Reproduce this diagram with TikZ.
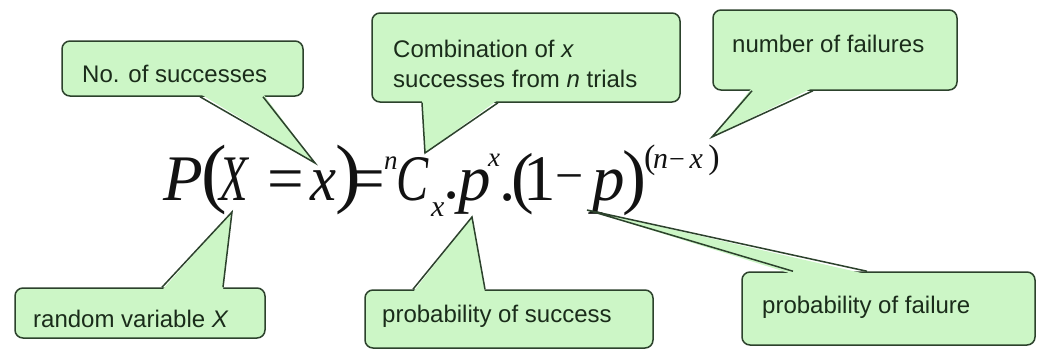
\documentclass[tikz,border=0pt]{standalone}
\usepackage{fontspec}
\setmainfont{Liberation Sans}
\newfontfamily\fml{Liberation Serif}
\usetikzlibrary{calc}
\definecolor{cfill}{RGB}{204,246,198}
\definecolor{cline}{RGB}{44,66,44}
\definecolor{ctext}{RGB}{26,44,26}
\definecolor{cform}{RGB}{18,18,18}
\newcommand\calltail[5]{%
  \fill[cfill] ($(#2,0 |- #1)+(0,#5)$) -- (#4) -- ($(#3,0 |- #1)+(0,#5)$) -- cycle;
  \draw[tailline] (#2,0 |- #1) -- (#4) -- (#3,0 |- #1);}
% glyph: kern, raise, size, content
\newcommand\fg[4]{\kern#1pt\raisebox{#2pt}{\fontsize{#3}{#3}\selectfont#4}}
\begin{document}
\begin{tikzpicture}[x=1pt,y=-1pt,
  callbox/.style={draw=cline, fill=cfill, line width=1.5pt, rounded corners=8pt, inner sep=0pt},
  calltxt/.style={anchor=base west, inner sep=0pt, text=ctext, font=\fontsize{24}{28}\selectfont},
  tailline/.style={draw=cline, line width=1.5pt, line join=miter},
  fm/.style={anchor=base west, inner sep=0pt, text=cform, font=\fml},
]
\useasboundingbox[fill=white] (0,0) rectangle (1037,351);

% ---- formula ----
\node[fm] (formula) at (163,200) {%
\fg{0}{0}{65}{\itshape P}%
\fg{-1.7}{2}{77}{(}%
\fg{-7.6}{0}{65}{\itshape\scalebox{0.72}[1]{X}}%
\fg{19.4}{0}{65}{=}%
\fg{6.3}{0}{65}{\itshape\scalebox{0.9}[1]{x}}%
\fg{-1}{2}{77}{)}%
\fg{-11.8}{0}{65}{=}%
\fg{-1.5}{31}{27}{\itshape n}%
\fg{-1.5}{0}{65}{\itshape\scalebox{0.74}[1]{C}}%
\fg{2.9}{-16}{30}{\itshape x}%
\fg{-1.3}{2}{65}{.}%
\fg{-1.25}{0}{65}{\itshape p}%
\fg{-2.5}{34}{27}{\itshape x}%
\fg{-1}{0}{65}{.}%
\fg{-4.25}{0}{68}{(}%
\fg{-9.8}{0}{65}{1}%
\fg{-1.3}{7.5}{50}{−}%
\fg{8.8}{0}{65}{\itshape p}%
\fg{-2.5}{0}{72}{)}%
\fg{-2}{32}{34}{(}%
\fg{-2.3}{32}{30}{\itshape n}%
\fg{1}{32}{28}{−}%
\fg{4.7}{32}{30}{\itshape x}%
\fg{5.5}{32}{34}{)}%
};

% ---- tail tips ----
\coordinate (tip1) at (315,163);
\coordinate (tip2) at (425,153);
\coordinate (tip3) at (712,137);
\coordinate (tip4) at (232,212);
\coordinate (tip5) at (472,217);
\coordinate (tip6) at (587,210);

% ---- callouts ----
\node[callbox, minimum width=241pt, minimum height=55pt] (b1) at (182.5,68.5) {};
\calltail{b1.south}{200}{263}{tip1}{-3}
\node[calltxt] (t1) at (82,82) {No. of successes};

\node[callbox, minimum width=308pt, minimum height=89pt] (b2) at (526,57.5) {};
\calltail{b2.south}{422}{498}{tip2}{-3}
\node[calltxt] (t2a) at (393,57) {Combination of \textit{x}};
\node[calltxt] (t2b) at (393,87) {successes from \textit{n} trials};

\node[callbox, minimum width=244pt, minimum height=80pt] (b3) at (835,50) {};
\calltail{b3.south}{752}{813}{tip3}{-3}
\node[calltxt] (t3) at (732,52) {number of failures};

\node[callbox, minimum width=250pt, minimum height=50pt] (b4) at (140,313) {};
\calltail{b4.north}{162}{223}{tip4}{3}
\node[calltxt] (t4) at (33,327) {random variable \textit{X}};

\node[callbox, minimum width=288pt, minimum height=58pt] (b5) at (509,319) {};
\calltail{b5.north}{413}{485}{tip5}{3}
\node[calltxt] (t5) at (382,322) {probability of success};

\node[callbox, minimum width=293pt, minimum height=73pt] (b6) at (888.5,308.5) {};
\calltail{b6.north}{793}{867}{tip6}{3}
\node[calltxt] (t6) at (762,313) {probability of failure};
\end{tikzpicture}
\end{document}
